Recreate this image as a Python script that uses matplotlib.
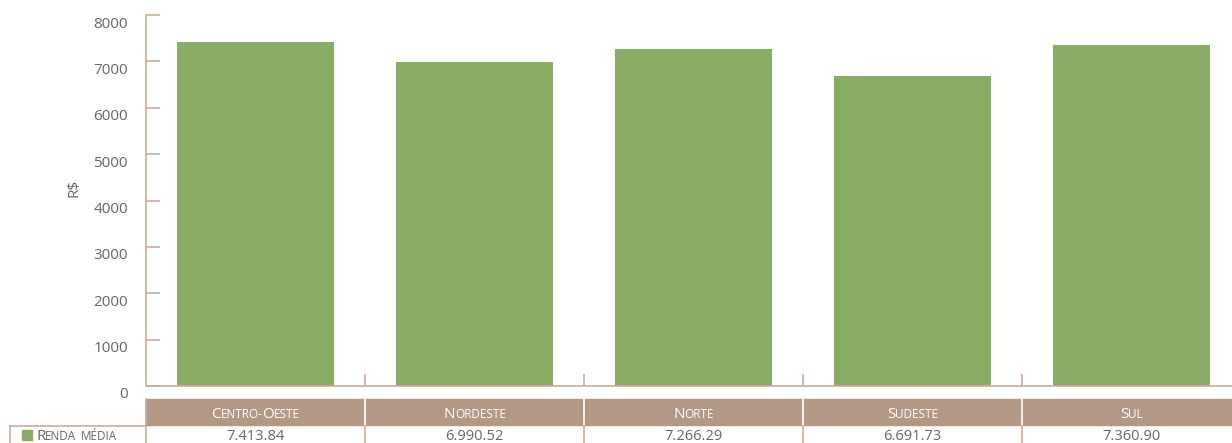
import matplotlib
matplotlib.use("Agg")
import matplotlib.pyplot as plt
from matplotlib.patches import Rectangle
from matplotlib.lines import Line2D
import matplotlib.transforms as mtransforms

regions = ["Centro-Oeste", "Nordeste", "Norte", "Sudeste", "Sul"]
renda = [7413.84, 6990.52, 7266.29, 6691.73, 7360.90]
renda_txt = ["7.413.84", "6.990.52", "7.266.29", "6.691.73", "7.360.90"]
series_name = "Renda média"
yticks = [0, 1000, 2000, 3000, 4000, 5000, 6000, 7000, 8000]

W, H = 1232, 443
green = "#8aad66"
brown = "#b39885"
line_c = "#c9ad9c"
txt_c = "#666666"
font = "Open Sans"

plt.rcParams["font.family"] = [font, "DejaVu Sans"]
fig = plt.figure(figsize=(W / 100, H / 100), dpi=100)
slot = 219
x0 = 146
ax = fig.add_axes([x0 / W, (H - 386) / H, slot * len(regions) / W, (386 - 15) / H])

x = [i + 0.5 for i in range(len(regions))]
ax.bar(x, renda, width=0.72, color=green, zorder=2)
ax.set_xlim(0, len(regions))
ax.set_ylim(0, 8000)
ax.set_yticks(yticks)
ax.set_yticklabels([str(v) for v in yticks], fontsize=11, color=txt_c)
ax.set_xticks(range(1, len(regions)))
ax.set_xticklabels([])
ax.tick_params(axis="y", direction="in", length=10, width=1.2, color=line_c, pad=13)
ax.tick_params(axis="x", direction="in", length=9, width=1.2, color=line_c)
for s in ["top", "right"]:
    ax.spines[s].set_visible(False)
for s in ["left", "bottom"]:
    ax.spines[s].set_color(line_c)
    ax.spines[s].set_linewidth(1.2)
off = mtransforms.ScaledTranslation(0, -7 / 100, fig.dpi_scale_trans)
for lab in ax.get_yticklabels():
    lab.set_transform(lab.get_transform() + off)
ax.set_ylabel("R$", fontsize=11, color=txt_c, labelpad=0)
ax.yaxis.set_label_coords((82 - x0) / (slot * len(regions)), (386 - 188) / (386 - 15))


def fx(px):
    return px / W


def fy(py):
    return (H - py) / H


renderer = fig.canvas.get_renderer()


def small_caps(s, cx, base_y, big, small, color, ha="center"):
    runs = []
    for c in s:
        is_big = c.isupper() or c == " "
        if runs and runs[-1][1] == is_big:
            runs[-1][0] += c
        else:
            runs.append([c, is_big])
    texts = []
    total = 0
    for r, is_big in runs:
        t = fig.text(0, fy(base_y), r.upper(), fontsize=big if is_big else small,
                     color=color, va="baseline", ha="left")
        w = t.get_window_extent(renderer).width
        texts.append((t, w))
        total += w
    start = cx - total / 2 if ha == "center" else cx
    for t, w in texts:
        t.set_x(fx(start))
        start += w


# table header row
bounds = [x0 + slot * i for i in range(len(regions) + 1)]
fig.patches.append(Rectangle((fx(146), fy(425)), fx(W - 146), 26 / H,
                             transform=fig.transFigure, color=brown, zorder=1))
for i, name in enumerate(regions):
    cx = (bounds[i] + bounds[i + 1]) / 2
    small_caps(name, cx, 418, 11, 8.5, "white")
    if 0 < i:
        fig.lines.append(Line2D([fx(bounds[i])] * 2, [fy(399), fy(425)],
                                transform=fig.transFigure, color="white", lw=1.2))
        fig.lines.append(Line2D([fx(bounds[i])] * 2, [fy(426), fy(443)],
                                transform=fig.transFigure, color=line_c, lw=1.2))
    fig.text(fx(cx), fy(440.5), renda_txt[i], fontsize=10.5, color=txt_c,
             ha="center", va="baseline")

# row borders
fig.lines.append(Line2D([fx(10), fx(146)], [fy(426), fy(426)],
                        transform=fig.transFigure, color=line_c, lw=1.2))
fig.lines.append(Line2D([fx(10), fx(10)], [fy(426), fy(443)],
                        transform=fig.transFigure, color=line_c, lw=1.2))
fig.lines.append(Line2D([fx(146), fx(146)], [fy(399), fy(443)],
                        transform=fig.transFigure, color=line_c, lw=1.2))
fig.patches.append(Rectangle((fx(22), fy(440)), 10 / W, 10 / H,
                             transform=fig.transFigure, color=green))
small_caps(series_name, 36, 440.5, 11, 8.5, txt_c, ha="left")

fig.savefig("out.png", dpi=100)
